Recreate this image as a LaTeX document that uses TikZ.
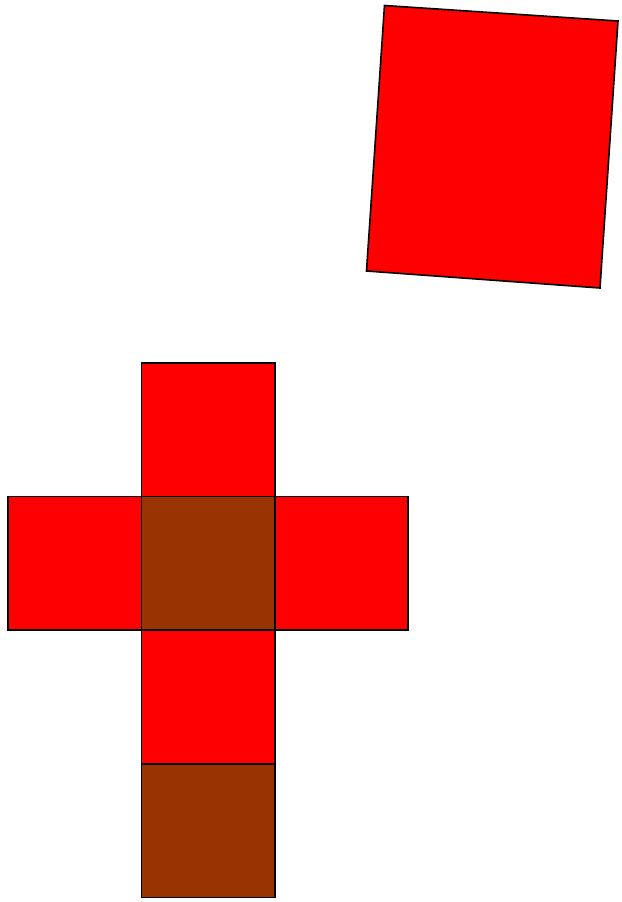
\documentclass[tikz,border=0pt]{standalone}
\usepackage{xcolor}
\usetikzlibrary{positioning}
\definecolor{facered}{RGB}{255,0,0}
\definecolor{facebrown}{RGB}{153,51,0}

\begin{document}
\begin{tikzpicture}[
      x=1pt, y=-1pt,
      face/.style={
         draw=black,
         line width=1.6pt,
         line join=miter},
      ]
      \useasboundingbox (0,0) rectangle (621,902);

      % tilted face
      \coordinate (tl) at (384.5,5.5);
      \coordinate (tr) at (618,21);
      \coordinate (br) at (600,288);
      \coordinate (bl) at (366.5,271);
      \draw[face, fill=facered] (tl) -- (tr) -- (br) -- (bl) -- cycle;

    \foreach \c/\r/\col in {% column/row/colour
      1/0/facered,
      0/1/facered,
      1/1/facebrown,
      2/1/facered,
      1/2/facered,
      1/3/facebrown}
       \draw [face, fill=\col] (8+133.4*\c, 363+133.6*\r) rectangle ++(133.4,133.6);

    \end{tikzpicture}
\end{document}
